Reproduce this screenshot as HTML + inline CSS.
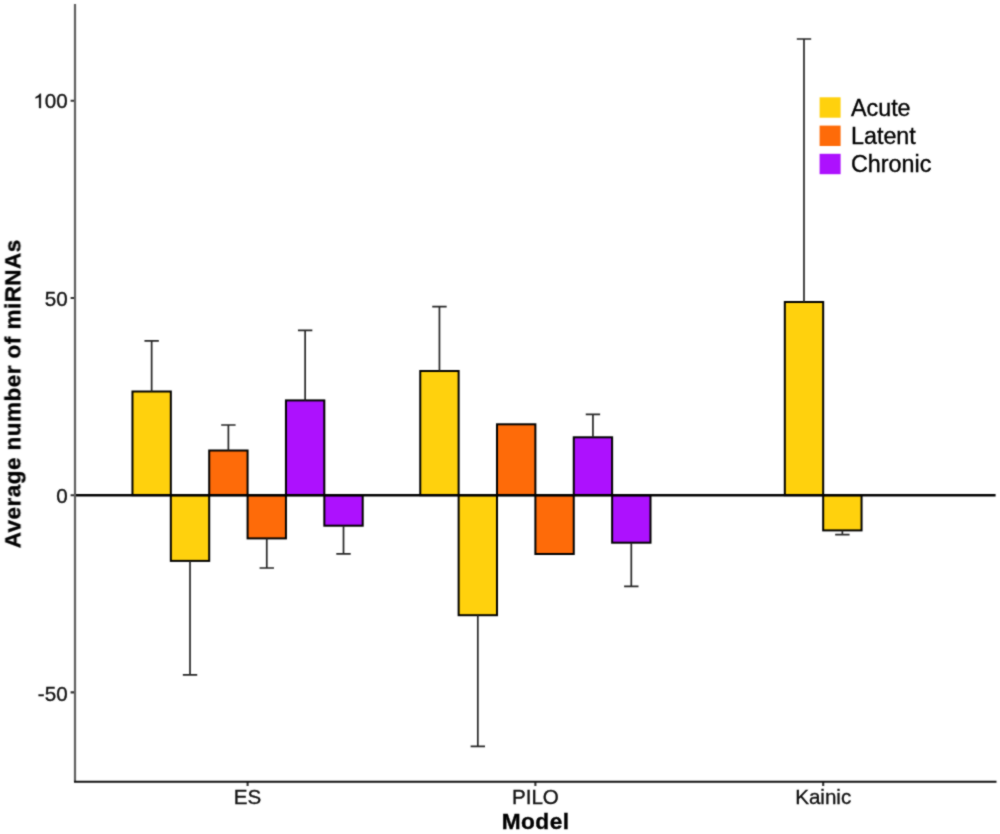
<!DOCTYPE html>
<html><head><meta charset="utf-8"><title>Average number of miRNAs by model</title><style>
html,body{margin:0;padding:0;background:#fff;overflow:hidden;}
svg{display:block;will-change:transform;}
text{font-family:"Liberation Sans",sans-serif;stroke:currentColor;stroke-width:0.35px;}
</style></head><body>
<svg width="1000" height="834" viewBox="0 0 1000 834">
<defs><filter id="bl" x="0" y="0" width="1" height="1" color-interpolation-filters="sRGB"><feConvolveMatrix order="3" kernelMatrix="1 2 1 2 12 2 1 2 1" divisor="24" edgeMode="duplicate"/></filter></defs>
<g filter="url(#bl)">
<rect width="1000" height="834" fill="#fff"/>
<g fill="#111" color="#111" font-size="20.6" text-anchor="end">
<text x="67.6" y="108.0">00</text>
<path transform="translate(33.23,108.00) scale(0.010059,-0.009669)" d="M763 0H583V1147Q518 1090 412.5 1050Q307 1010 240 990V1140Q374 1195 487 1286Q600 1377 647 1472H763Z" stroke="#111" stroke-width="34.8"/>
<text x="67.6" y="306">50</text>
<text x="67.6" y="503">0</text>
<text x="67.6" y="701">-50</text>
</g>
<g stroke="#333" stroke-width="2.1">
<path d="M70.6 100.8H75M70.6 298.0H75M70.6 495.2H75M70.6 692.4H75"/>
<path d="M247.6 782V786M535.4 782V786M823.2 782V786"/>
</g>
<g fill="#111" color="#111" font-size="20.6" text-anchor="middle">
<text x="247.6" y="804">ES</text>
<text x="535.4" y="804">PILO</text>
<text x="823.2" y="804">Kainic</text>
</g>
<g fill="#000" color="#000" font-size="23.3" font-weight="bold" text-anchor="middle" style="stroke-width:0.1px">
<text x="535.6" y="829" style="font-size:22.7px;letter-spacing:0.45px">Model</text>
<text transform="translate(20.4,394.0) rotate(-90)" x="0.23" style="font-size:22.5px;letter-spacing:0.46px">Average number of miRNAs</text>
</g>
<g stroke="#000" stroke-width="2"><rect x="132.46" y="391.50" width="38.37" height="103.70" fill="#FFD10D"/><rect x="170.83" y="495.20" width="38.37" height="65.70" fill="#FFD10D"/><rect x="209.21" y="450.50" width="38.37" height="44.70" fill="#FE6B09"/><rect x="247.58" y="495.20" width="38.37" height="43.20" fill="#FE6B09"/><rect x="285.95" y="400.40" width="38.37" height="94.80" fill="#AD11FE"/><rect x="324.33" y="495.20" width="38.37" height="30.50" fill="#AD11FE"/><rect x="420.26" y="371.00" width="38.37" height="124.20" fill="#FFD10D"/><rect x="458.63" y="495.20" width="38.37" height="120.00" fill="#FFD10D"/><rect x="497.01" y="424.30" width="38.37" height="70.90" fill="#FE6B09"/><rect x="535.38" y="495.20" width="38.37" height="58.80" fill="#FE6B09"/><rect x="573.75" y="437.30" width="38.37" height="57.90" fill="#AD11FE"/><rect x="612.13" y="495.20" width="38.37" height="47.50" fill="#AD11FE"/><rect x="784.81" y="302.00" width="38.37" height="193.20" fill="#FFD10D"/><rect x="823.18" y="495.20" width="38.37" height="35.20" fill="#FFD10D"/></g>
<line x1="74" y1="495.30" x2="995.6" y2="495.30" stroke="#000" stroke-width="2.5"/>
<g stroke="#262626" stroke-width="1.7" fill="none"><path d="M151.65 391.50V340.80M144.45 340.80H158.85"/><path d="M190.02 560.90V674.80M182.82 674.80H197.22"/><path d="M228.39 450.50V425.00M221.19 425.00H235.59"/><path d="M266.77 538.40V568.00M259.57 568.00H273.97"/><path d="M305.14 400.40V330.40M297.94 330.40H312.34"/><path d="M343.51 525.70V553.90M336.31 553.90H350.71"/><path d="M439.45 371.00V306.60M432.25 306.60H446.65"/><path d="M477.82 615.20V746.30M470.62 746.30H485.02"/><path d="M592.94 437.30V414.30M585.74 414.30H600.14"/><path d="M631.31 542.70V586.30M624.11 586.30H638.51"/><path d="M803.99 302.00V39.00M796.79 39.00H811.19"/><path d="M842.37 530.40V534.60M835.17 534.60H849.57"/></g>
<line x1="75" y1="4" x2="75" y2="782" stroke="#606060" stroke-width="2.2"/>
<line x1="74" y1="781.8" x2="996.5" y2="781.8" stroke="#111" stroke-width="2"/>
<rect x="819.6" y="97.3" width="21" height="20.4" fill="#FFD10D"/>
<rect x="819.6" y="125.6" width="21" height="20.4" fill="#FE6B09"/>
<rect x="819.6" y="153.8" width="21" height="20.4" fill="#AD11FE"/>
<g fill="#000" color="#000" font-size="23.3">
<text x="851" y="116">Acute</text>
<text x="851" y="144">Latent</text>
<text x="851" y="172">Chronic</text>
</g>
</g>
</svg>
</body></html>
